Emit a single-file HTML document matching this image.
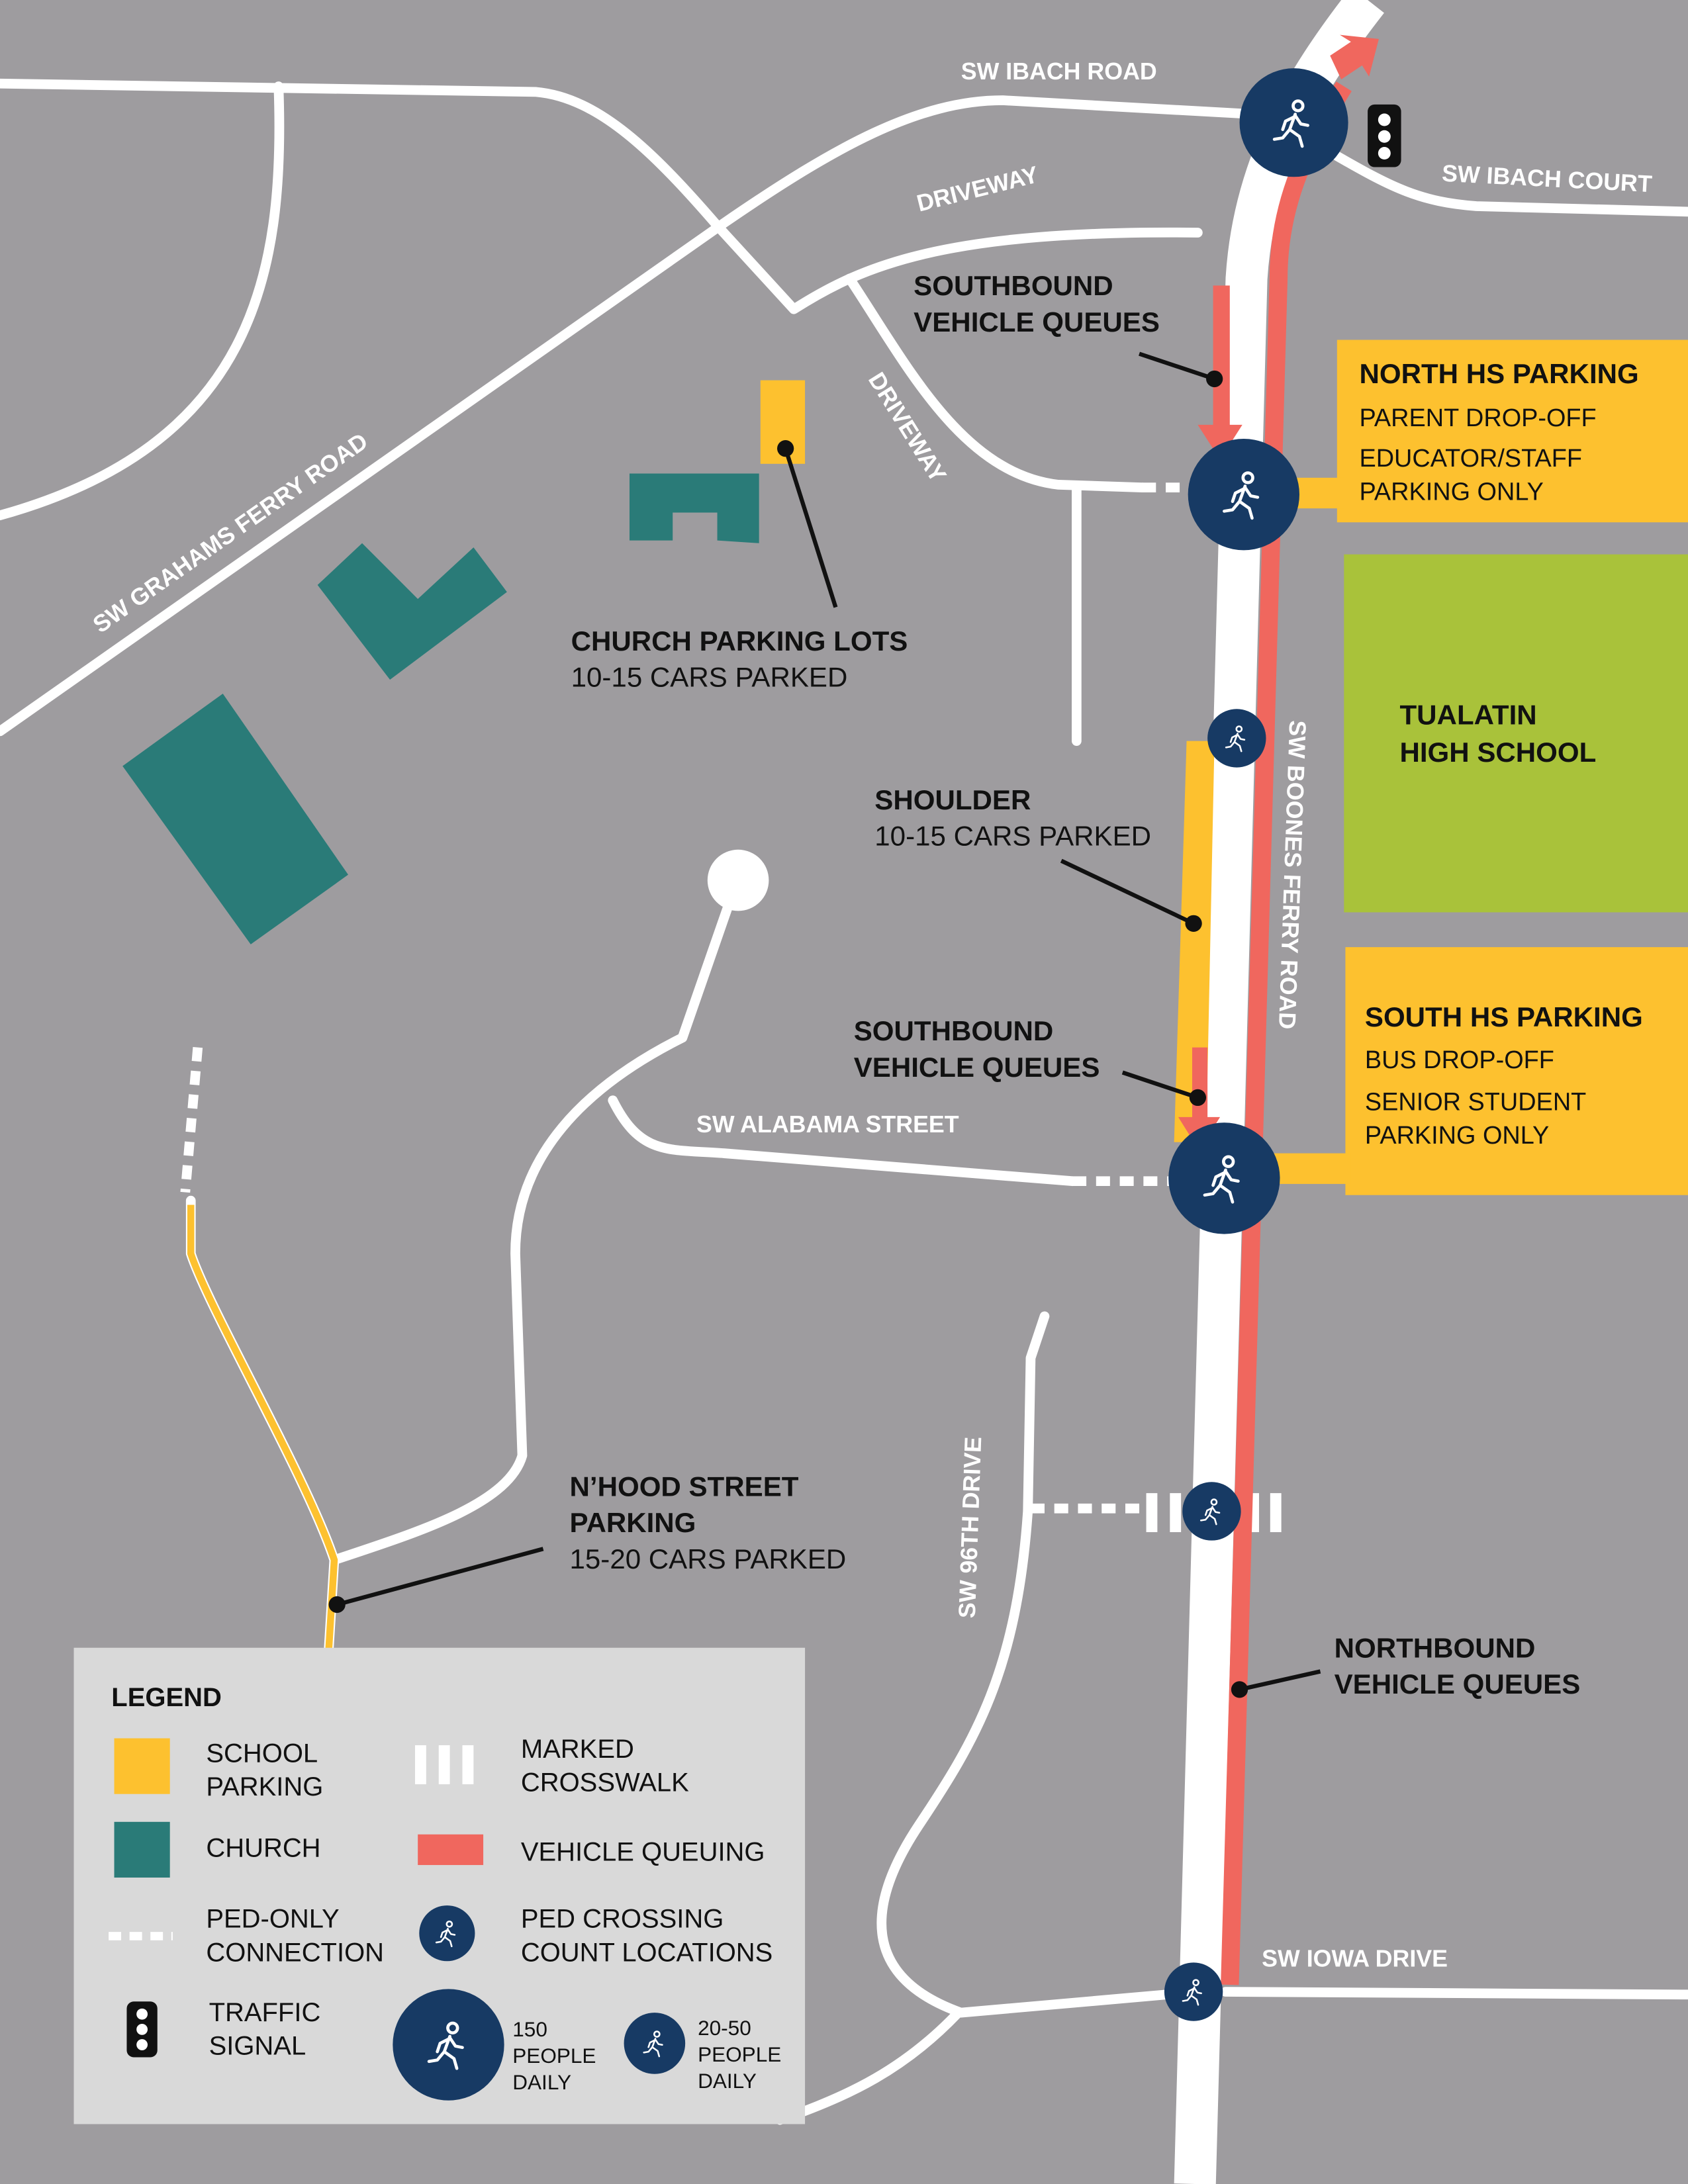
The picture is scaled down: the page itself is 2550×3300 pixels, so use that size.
<!DOCTYPE html>
<html><head><meta charset="utf-8"><style>
html,body{margin:0;padding:0;background:#9e9c9f}
svg{display:block}
text{font-family:"Liberation Sans",Arial,sans-serif}
.b{font-weight:bold;fill:#111}
.n{fill:#111}
.w{fill:#fff;font-weight:bold}
</style></head><body>
<svg width="2550" height="3300" viewBox="0 0 1212 1568" preserveAspectRatio="none" xmlns="http://www.w3.org/2000/svg">
<defs>
<symbol id="wk" viewBox="-20 -20 40 40">
<g fill="none" stroke="#fff" stroke-width="2.2" stroke-linecap="round" stroke-linejoin="round">
<circle cx="3" cy="-12" r="3.5"/>
<path d="M1 -6 L-3 5 L4 10 L6 17"/>
<path d="M-3 5 L-8 11 L-14 12"/>
<path d="M0 -4 L-6 -1 L-8 5"/>
<path d="M1 -5 L5 1 L10 2"/>
</g></symbol>
</defs>
<rect width="1212" height="1568" fill="#9e9c9f"/>
<g fill="none" stroke="#fff" stroke-width="7" stroke-linecap="round" stroke-linejoin="round">
<path d="M0 525 L520 160 C600 105 660 72 720 72 L900 82"/>
<path d="M960 112 C1000 135 1020 145 1060 148 L1212 152"/>
<path d="M0 60 L385 66 C430 70 470 110 515 162 L570 222 C620 190 680 165 860 167"/>
<path d="M610 200 C650 260 690 340 760 348 L820 350"/>
<path d="M200 62 C205 200 180 320 0 370"/>
<path d="M773 352 L773 532"/>
<path d="M523 650 L490 745 C420 780 370 830 370 900 L375 1045 C365 1080 300 1100 240 1120"/>
<path d="M440 790 C460 830 480 825 520 828 L770 848"/>
<path d="M137 862 L137 900 C150 940 220 1060 240 1120 L236 1185"/>
<path d="M750 945 L740 975 L738 1085 C730 1200 700 1250 660 1310 C620 1370 620 1420 690 1445 L860 1430"/>
<path d="M880 1430 L1212 1432"/>
<path d="M688 1445 C650 1485 610 1505 560 1522"/>
</g>
<g fill="none" stroke="#fff" stroke-width="7" stroke-dasharray="10 7">
<path d="M820 350 L856 350"/>
<path d="M770 848 L842 848"/>
<path d="M142 752 L133 856"/>
<path d="M740 1083 L822 1083"/>
</g>
<path d="M137 865 L137 900 C150 940 220 1060 240 1120 L236 1185" fill="none" stroke="#fdc12f" stroke-width="5"/>
<g fill="#fff"><rect x="823" y="1072" width="8" height="28"/><rect x="840" y="1072" width="8" height="28"/><rect x="896" y="1072" width="8" height="28"/><rect x="912" y="1072" width="8" height="28"/></g>
<circle cx="530" cy="632" r="22" fill="#fff"/>
<path d="M982 0 C935 60 900 120 895 200 L858 1568" fill="none" stroke="#fff" stroke-width="30"/>
<path d="M965 62 C935 110 918 150 918 200 L883 1425" fill="none" stroke="#f0675e" stroke-width="13"/>
<path d="M955 40 L970 30 L962 25 L990 28 L983 55 L978 47 L963 57Z" fill="#f0675e"/>
<polygon points="852,532 872,532 866,820 843,820" fill="#fdc12f"/>
<rect x="960" y="244" width="252" height="131" fill="#fdc12f"/>
<rect x="925" y="343" width="40" height="22" fill="#fdc12f"/>
<rect x="965" y="398" width="247" height="257" fill="#a9c23a"/>
<rect x="966" y="680" width="246" height="178" fill="#fdc12f"/>
<rect x="912" y="828" width="58" height="22" fill="#fdc12f"/>
<rect x="546" y="273" width="32" height="60" fill="#fdc12f"/>
<rect x="871" y="205" width="12" height="105" fill="#f0675e"/>
<polygon points="860,305 892,305 876,330" fill="#f0675e"/>
<rect x="856" y="752" width="11" height="55" fill="#f0675e"/>
<polygon points="846,802 876,802 861,826" fill="#f0675e"/>
<g fill="#2a7b78">
<polygon points="452,340 545,340 545,390 515,388 515,368 483,368 483,388 452,388"/>
<polygon points="228,420 260,390 300,430 340,393 364,425 280,488"/>
<polygon points="88,550 160,498 250,628 180,678"/>
</g>
<g stroke="#111" stroke-width="3" fill="none">
<path d="M818 254 L872 272"/><path d="M564 322 L600 436"/><path d="M762 618 L857 663"/>
<path d="M806 770 L860 788"/><path d="M242 1152 L390 1112"/><path d="M890 1213 L948 1200"/>
</g>
<g fill="#111"><circle cx="872" cy="272" r="6"/><circle cx="564" cy="322" r="6"/><circle cx="857" cy="663" r="6"/><circle cx="860" cy="788" r="6"/><circle cx="242" cy="1152" r="6"/><circle cx="890" cy="1213" r="6"/></g>
<rect x="982" y="75" width="24" height="45" rx="5" fill="#111"/>
<g fill="#fff"><circle cx="994" cy="86" r="4.5"/><circle cx="994" cy="98" r="4.5"/><circle cx="994" cy="110" r="4.5"/></g>
<g fill="#173a64">
<circle cx="929" cy="88" r="39"/><circle cx="893" cy="355" r="40"/><circle cx="879" cy="846" r="40"/>
<circle cx="888" cy="530" r="21"/><circle cx="870" cy="1085" r="21"/><circle cx="857" cy="1430" r="21"/>
</g>
<use href="#wk" x="909" y="68" width="40" height="40"/>
<use href="#wk" x="873" y="335" width="40" height="40"/>
<use href="#wk" x="859" y="826" width="40" height="40"/>
<use href="#wk" x="877" y="519" width="22" height="22"/>
<use href="#wk" x="859" y="1074" width="22" height="22"/>
<use href="#wk" x="846" y="1419" width="22" height="22"/>
<g font-size="17">
<text class="w" x="690" y="57">SW IBACH ROAD</text>
<text class="w" x="1035" y="130" transform="rotate(3 1035 130)">SW IBACH COURT</text>
<text class="w" x="660" y="152" transform="rotate(-14 660 152)">DRIVEWAY</text>
<text class="w" x="623" y="272" transform="rotate(58 623 272)">DRIVEWAY</text>
<text class="w" x="72" y="455" transform="rotate(-35 72 455)">SW GRAHAMS FERRY ROAD</text>
<text class="w" x="926" y="517" transform="rotate(92 926 517)">SW BOONES FERRY ROAD</text>
<text class="w" x="500" y="813">SW ALABAMA STREET</text>
<text class="w" x="700" y="1162" transform="rotate(-88 700 1162)">SW 96TH DRIVE</text>
<text class="w" x="906" y="1412">SW IOWA DRIVE</text>
</g>
<g font-size="20">
<text class="b" x="656" y="212">SOUTHBOUND</text><text class="b" x="656" y="238">VEHICLE QUEUES</text>
<text class="b" x="976" y="275">NORTH HS PARKING</text>
<text class="n" x="976" y="306" font-size="18">PARENT DROP-OFF</text>
<text class="n" x="976" y="335" font-size="18">EDUCATOR/STAFF</text>
<text class="n" x="976" y="359" font-size="18">PARKING ONLY</text>
<text class="b" x="1005" y="520">TUALATIN</text><text class="b" x="1005" y="547">HIGH SCHOOL</text>
<text class="b" x="410" y="467">CHURCH PARKING LOTS</text><text class="n" x="410" y="493">10-15 CARS PARKED</text>
<text class="b" x="628" y="581">SHOULDER</text><text class="n" x="628" y="607">10-15 CARS PARKED</text>
<text class="b" x="613" y="747">SOUTHBOUND</text><text class="b" x="613" y="773">VEHICLE QUEUES</text>
<text class="b" x="980" y="737">SOUTH HS PARKING</text>
<text class="n" x="980" y="767" font-size="18">BUS DROP-OFF</text>
<text class="n" x="980" y="797" font-size="18">SENIOR STUDENT</text>
<text class="n" x="980" y="821" font-size="18">PARKING ONLY</text>
<text class="b" x="409" y="1074">N’HOOD STREET</text><text class="b" x="409" y="1100">PARKING</text><text class="n" x="409" y="1126">15-20 CARS PARKED</text>
<text class="b" x="958" y="1190">NORTHBOUND</text><text class="b" x="958" y="1216">VEHICLE QUEUES</text>
</g>
<rect x="53" y="1183" width="525" height="342" fill="#d9d9d9"/>
<g font-size="19">
<text class="b" x="80" y="1225">LEGEND</text>
<rect x="82" y="1248" width="40" height="40" fill="#fdc12f"/>
<text class="n" x="148" y="1265">SCHOOL</text><text class="n" x="148" y="1289">PARKING</text>
<rect x="82" y="1308" width="40" height="40" fill="#2a7b78"/>
<text class="n" x="148" y="1333">CHURCH</text>
<g stroke="#fff" stroke-width="6" stroke-dasharray="9 6"><path d="M78 1390 L124 1390"/></g>
<text class="n" x="148" y="1384">PED-ONLY</text><text class="n" x="148" y="1408">CONNECTION</text>
<rect x="91" y="1437" width="22" height="40" rx="5" fill="#111"/>
<g fill="#fff"><circle cx="102" cy="1446" r="4"/><circle cx="102" cy="1457" r="4"/><circle cx="102" cy="1468" r="4"/></g>
<text class="n" x="150" y="1451">TRAFFIC</text><text class="n" x="150" y="1475">SIGNAL</text>
<g fill="#fff"><rect x="298" y="1253" width="8" height="28"/><rect x="315" y="1253" width="8" height="28"/><rect x="332" y="1253" width="8" height="28"/></g>
<text class="n" x="374" y="1262">MARKED</text><text class="n" x="374" y="1286">CROSSWALK</text>
<rect x="300" y="1317" width="47" height="22" fill="#f0675e"/>
<text class="n" x="374" y="1336">VEHICLE QUEUING</text>
<circle cx="321" cy="1388" r="20" fill="#173a64"/><use href="#wk" x="310" y="1377" width="22" height="22"/>
<text class="n" x="374" y="1384">PED CROSSING</text><text class="n" x="374" y="1408">COUNT LOCATIONS</text>
<circle cx="322" cy="1468" r="40" fill="#173a64"/><use href="#wk" x="302" y="1448" width="40" height="40"/>
<circle cx="470" cy="1467" r="22" fill="#173a64"/><use href="#wk" x="459" y="1456" width="22" height="22"/>
</g>
<g font-size="15" class="n" fill="#111">
<text x="368" y="1462">150</text><text x="368" y="1481">PEOPLE</text><text x="368" y="1500">DAILY</text>
<text x="501" y="1461">20-50</text><text x="501" y="1480">PEOPLE</text><text x="501" y="1499">DAILY</text>
</g>
</svg>
</body></html>
